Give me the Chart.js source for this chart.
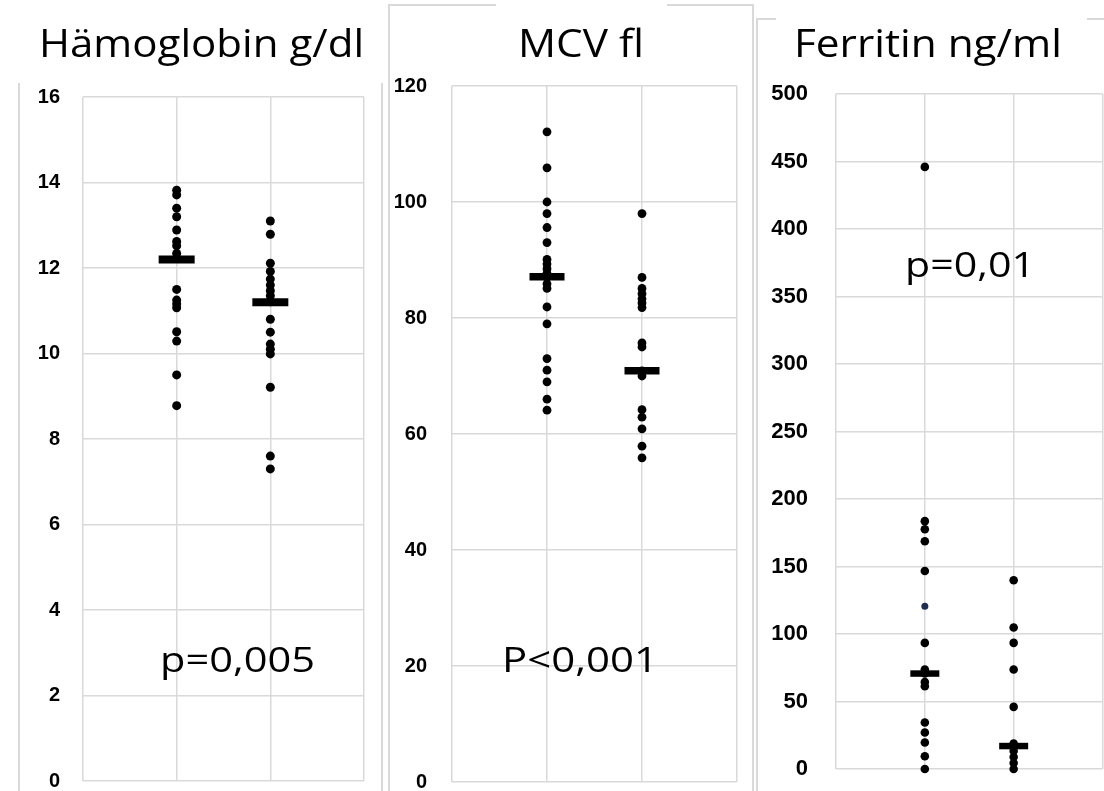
<!DOCTYPE html>
<html>
<head>
<meta charset="utf-8">
<script src="https://cdn.jsdelivr.net/npm/chart.js@4.4.1/dist/chart.umd.min.js"></script>
<style>
body { margin: 0; background: #fff; overflow: hidden; width: 1104px; height: 791px; position: relative; }
canvas { position: absolute; top: 0; }
.ln { position: absolute; background: #d9d9d9; }
</style>
</head>
<body>
<!-- frames of the three pasted charts -->
<div class="ln" style="left:18px;top:83px;width:2px;height:708px"></div>
<div class="ln" style="left:381px;top:83px;width:2px;height:708px"></div>
<div class="ln" style="left:388px;top:4px;width:2px;height:787px"></div>
<div class="ln" style="left:752px;top:4px;width:2px;height:787px"></div>
<div class="ln" style="left:388px;top:4px;width:108px;height:2px"></div>
<div class="ln" style="left:667px;top:4px;width:87px;height:2px"></div>
<div class="ln" style="left:756px;top:18px;width:2px;height:773px"></div>
<div class="ln" style="left:756px;top:18px;width:20px;height:2px"></div>
<div class="ln" style="left:1087px;top:18px;width:17px;height:2px"></div>

<canvas id="hb" width="384" height="820" style="left:0"></canvas>
<canvas id="mcv" width="372" height="820" style="left:384px"></canvas>
<canvas id="ferr" width="348" height="820" style="left:756px"></canvas>

<script>
// x position of the two groups, gridlines at 0..3
const groupX = [1, 2]

// Hämoglobin g/dl
const hbGroup1 = [13.82, 13.71, 13.4, 13.2, 12.89, 12.62, 12.52, 12.34, 12.23, 11.5, 11.25, 11.16, 11.07, 10.51, 10.29, 9.5, 8.78]
const hbGroup2 = [13.1, 12.79, 12.11, 11.92, 11.74, 11.6, 11.47, 11.35, 11.21, 10.8, 10.5, 10.22, 10.1, 9.99, 9.21, 7.6, 7.3]
const hbMeans = [12.2, 11.2]

// MCV fl
const mcvGroup1 = [112.1, 105.9, 100, 98, 95.6, 93, 90.1, 89.3, 88.5, 87.7, 87, 85.9, 85.1, 81.9, 79, 73, 71, 69, 66, 64.1]
const mcvGroup2 = [98, 87, 85.1, 84.2, 83.3, 82.6, 81.8, 75.7, 75, 70.9, 70, 64.2, 62.9, 60.9, 57.9, 55.9]
const mcvMeans = [87.1, 70.9]

// Ferritin ng/ml
const ferrGroup1 = [446, 183.6, 177.6, 168.7, 146.7, 93.4, 73.7, 70.7, 64.5, 61.3, 34.4, 27, 19.6, 9.4, 0]
const ferrGroup1Blue = [120.6]
const ferrGroup2 = [139.8, 104.8, 93.4, 73.7, 46, 18.8, 13.3, 8.9, 4.4, 0]
const ferrMeans = [70.7, 17]

// draws titles and p-values, stretched to the width seen in the picture
const panelText = {
  id: 'panelText',
  afterDraw(chart, args, o) {
    const ctx = chart.ctx
    o.items.forEach(t => {
      ctx.save()
      ctx.font = t.size + 'px "Open Sans"'
      ctx.fillStyle = '#000'
      ctx.textBaseline = 'alphabetic'
      const w = ctx.measureText(t.text).width
      ctx.translate(t.x, t.y)
      ctx.scale(t.w / w, 1)
      ctx.fillText(t.text, 0, 0)
      ctx.restore()
    })
  }
}

function pts(values, x) {
  return values.map(v => ({ x: x, y: v }))
}

function makePanel(id, o) {
  const grid = { color: '#d9d9d9', lineWidth: 1.5, drawTicks: false }
  new Chart(document.getElementById(id), {
    type: 'scatter',
    data: {
      datasets: [
        {
          data: o.means.map((v, i) => ({ x: groupX[i], y: v })),
          pointStyle: 'line',
          pointRadius: o.barHalf,
          pointBorderWidth: o.barThick,
          pointBorderColor: '#000',
          clip: false,
          order: 0
        },
        ...o.groups.map(g => ({
          data: pts(g.values, g.x),
          pointRadius: g.r || o.dot,
          pointBackgroundColor: g.color || '#000',
          pointBorderWidth: 0,
          clip: false,
          order: 1
        }))
      ]
    },
    options: {
      responsive: false,
      animation: false,
      events: [],
      layout: { padding: o.padding, autoPadding: false },
      plugins: {
        legend: { display: false },
        tooltip: { enabled: false },
        panelText: { items: o.texts }
      },
      scales: {
        x: {
          type: 'linear', min: 0, max: 3,
          ticks: { display: false, stepSize: 1 },
          grid: grid,
          border: { display: false },
          afterFit: s => { s.height = 0 }
        },
        y: {
          min: 0, max: o.max,
          ticks: {
            stepSize: o.step, color: '#000', padding: o.tickPad,
            font: { family: 'Liberation Sans', weight: 'bold', size: o.tickSize }
          },
          grid: grid,
          border: { display: false },
          afterFit: s => { s.width = o.axisW }
        }
      }
    },
    plugins: [panelText]
  })
}

makePanel('hb', {
  max: 16, step: 2, tickSize: 20, tickPad: 23, axisW: 83,
  padding: { top: 97, bottom: 39, left: 0, right: 20 },
  dot: 4.5, barHalf: 18, barThick: 8,
  means: hbMeans,
  groups: [{ values: hbGroup1, x: groupX[0] }, { values: hbGroup2, x: groupX[1] }],
  texts: [
    { text: 'Hämoglobin g/dl', x: 39, y: 57, w: 325, size: 39 },
    { text: 'p=0,005', x: 160, y: 672, w: 155, size: 34 }
  ]
})

makePanel('mcv', {
  max: 120, step: 20, tickSize: 20, tickPad: 25, axisW: 68,
  padding: { top: 86, bottom: 38, left: 0, right: 19 },
  dot: 4.4, barHalf: 17.5, barThick: 7.5,
  means: mcvMeans,
  groups: [{ values: mcvGroup1, x: groupX[0] }, { values: mcvGroup2, x: groupX[1] }],
  texts: [
    { text: 'MCV fl', x: 134, y: 57, w: 126, size: 39 },
    { text: 'P<0,001', x: 118, y: 672, w: 156, size: 34 }
  ]
})

makePanel('ferr', {
  max: 500, step: 50, tickSize: 22, tickPad: 28, axisW: 80,
  padding: { top: 94, bottom: 51, left: 0, right: 1.5 },
  dot: 4.3, barHalf: 14.5, barThick: 6.5,
  means: ferrMeans,
  groups: [
    { values: ferrGroup1, x: groupX[0] },
    { values: ferrGroup1Blue, x: groupX[0], r: 3.5, color: '#1f2d50' },
    { values: ferrGroup2, x: groupX[1] }
  ],
  texts: [
    { text: 'Ferritin ng/ml', x: 38, y: 57, w: 268, size: 39 },
    { text: 'p=0,01', x: 149, y: 277, w: 130, size: 35 }
  ]
})
</script>
</body>
</html>
